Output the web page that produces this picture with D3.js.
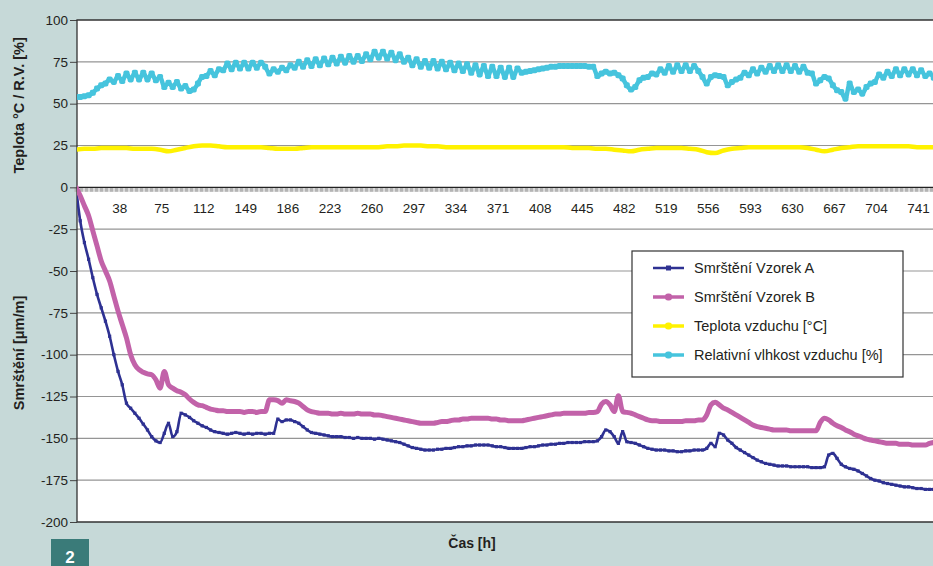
<!DOCTYPE html>
<html>
<head>
<meta charset="utf-8">
<script src="https://cdn.jsdelivr.net/npm/d3@7"></script>
<style>
  body { margin: 0; background: #c6d9d8; }
  svg { display: block; font-family: "Liberation Sans", Arial, sans-serif; }
</style>
</head>
<body>
<svg></svg>
<script>
/*
*  DATA
*/

// hours between two readings of the shrinkage / humidity series
let stepH = 3.7
// temperature is logged half as often
let stepT = 7.4

let xLabels = [38, 75, 112, 149, 186, 223, 260, 297, 334, 371, 408, 445, 482, 519, 556, 593, 630, 667, 704, 741]
let yTicks = [100, 75, 50, 25, 0, -25, -50, -75, -100, -125, -150, -175, -200]

let seriesNames = ['Smrštění Vzorek A', 'Smrštění Vzorek B', 'Teplota vzduchu [°C]', 'Relativní vlhkost vzduchu [%]']

let shrinkA = [
  0, -20, -33, -43, -54, -64, -72, -80, -89, -100,
  -110, -118, -129, -132, -135, -138, -141.5, -145, -149, -151.5,
  -152.5, -147, -141, -149, -146, -135, -136, -137.5, -139.5, -141,
  -142.5, -143.5, -145, -146, -146.5, -147, -147.5, -147, -146.5, -147,
  -147.5, -147, -147.5, -147, -147, -147.5, -147, -147, -138.5, -140,
  -139, -139, -140, -141, -143, -145, -146.5, -147, -147.5, -148,
  -148.5, -149, -149, -149, -149.5, -149.5, -150, -149.5, -150, -150,
  -150, -150.5, -150, -150.5, -151, -151.5, -152, -152.5, -153.5, -154.5,
  -155.5, -156, -156.5, -157, -157, -157, -156.5, -156.5, -156, -156,
  -155.5, -155, -155, -154.5, -154.5, -154, -154, -154, -154, -154.5,
  -155, -155, -155.5, -156, -156, -156, -156, -155.5, -155, -155,
  -154.5, -154, -154, -153.5, -153.5, -153, -153, -152.5, -152.5, -152.5,
  -152.5, -152, -152, -152, -151.5, -149, -145, -146, -149, -153,
  -146, -152, -152.5, -153, -154, -155, -156, -156.5, -157, -157,
  -157, -157.5, -157.5, -158, -158, -157.5, -157.5, -157, -157, -157,
  -156, -153, -155, -147, -148, -151, -153, -155.5, -157, -158.5,
  -160, -161.5, -163, -164, -165, -165.5, -166, -166.5, -166.5, -166.5,
  -167, -167, -167, -167, -167, -167.5, -167.5, -167.5, -167, -160,
  -159, -162, -165.5, -167, -168, -168.5, -169.5, -171, -172.5, -174,
  -175, -175.5, -176.5, -177, -177.5, -178, -178.5, -179, -179, -179.5,
  -180, -180, -180.5, -180.5, -180.5
]

let shrinkB = [
  0, -5, -11, -17, -26, -35, -44, -50, -56, -65,
  -74, -82, -90, -100, -106, -109, -110.5, -111.5, -112, -115,
  -120, -110, -118, -120, -121.5, -122.5, -124, -126.5, -128.5, -130,
  -130.5, -131.5, -132.5, -133, -133.5, -133.5, -134, -134, -134, -134,
  -134.5, -134, -134, -134.5, -134, -134, -127, -127, -127.5, -129,
  -127, -127.5, -128, -129, -131, -133, -134, -134.5, -135, -135,
  -135, -135.5, -135.5, -135, -135.5, -135.5, -135.5, -135, -135.5, -135.5,
  -135.5, -136, -136, -136.5, -137, -137.5, -138, -138.5, -139, -139.5,
  -140, -140.5, -141, -141, -141, -141, -140.5, -140, -140, -139.5,
  -139, -139, -138.5, -138.5, -138, -138, -138, -138, -138, -138.5,
  -138.5, -139, -139, -139.5, -139.5, -139.5, -139.5, -139, -138.5, -138,
  -137.5, -137, -136.5, -136, -135.5, -135.5, -135, -135, -135, -135,
  -135, -135, -134.5, -134.5, -134, -129.5, -128, -130, -134, -124.5,
  -134, -134.5, -135, -136, -137, -138, -139, -139.5, -139.5, -140,
  -140, -140, -140, -140, -140, -139.5, -139.5, -139.5, -139, -139,
  -136, -130, -128.5, -130, -132, -133, -134.5, -136, -137.5, -139,
  -140.5, -142, -143, -143.5, -144, -144.5, -145, -145, -145, -145,
  -145.5, -145.5, -145.5, -145.5, -145.5, -145.5, -145.5, -140.5, -138, -139,
  -141, -142.5, -143.5, -145, -146, -147.5, -148.5, -149.5, -150.5, -151,
  -151.5, -152, -152.5, -153, -153, -153, -153.5, -153.5, -153.5, -154,
  -154, -154, -154, -153, -152.5
]

let humidity = [
  54, 54, 54.5, 55, 56.5, 59, 61, 62, 64.5, 63,
  66.5, 63.5, 68, 64.5, 68.5, 64.5, 68.5, 64.5, 68, 64,
  66, 60, 62.5, 60, 63, 59, 60.5, 57.5, 58.5, 62,
  66, 66.5, 69.5, 67, 70.5, 70, 74, 70.5, 74.5, 71,
  74.5, 71, 74.5, 71.5, 74.5, 72, 68, 70.5, 69, 71.5,
  70, 73, 71.5, 75, 72, 76, 72.5, 76.5, 73, 77,
  73.5, 77.5, 74, 78, 74.5, 78.5, 75, 78.5, 75.5, 79.5,
  76.5, 81, 77.5, 81, 77, 80.5, 76, 79.5, 75, 77.5,
  73, 76.5, 72, 75.5, 71.5, 75.5, 71, 75, 70.5, 74.5,
  70, 74, 69.5, 73.5, 68.5, 73, 67.5, 72.5, 66.5, 72,
  66.5, 71.5, 66, 71.5, 66, 71, 68.5, 69, 69.5, 70,
  70.5, 71, 71.5, 72, 72, 72.5, 72.5, 72.5, 72.5, 72.5,
  72.5, 72.5, 72, 72, 66.5, 68, 69, 68, 68.5, 67,
  65, 61, 58.5, 60, 64, 65.5, 66, 68, 67.5, 70.5,
  68.5, 72.5, 69, 73, 69.5, 73, 69.5, 72.5, 69.5, 66,
  62, 66, 67, 66.5, 66, 61, 63, 64.5, 65.5, 68.5,
  67, 70.5, 68, 71.5, 69, 72.5, 69.5, 73, 69.5, 73,
  69.5, 72.5, 69, 72, 68.5, 68, 62, 64, 66, 65,
  61, 58, 57, 53, 62, 57, 58.5, 56, 60, 62,
  63, 67.5, 65.5, 69, 66.5, 70.5, 67, 70.5, 67.5, 70.5,
  67, 70, 66.5, 68, 65.5
]

let temperature = [
  22.5, 23, 23, 23.5, 23.5, 23.5, 23.5, 23, 23, 23,
  22.5, 21.5, 22.5, 23.5, 24.5, 25, 25, 24.5, 24, 24,
  24, 24, 24, 23.5, 23, 23, 23, 23.5, 24, 24,
  24, 24, 24, 24, 24, 24, 24, 24.5, 24.5, 25,
  25, 25, 24.5, 24.5, 24, 24, 24, 24, 24, 24,
  24, 24, 24, 24, 24, 24, 24, 24, 24, 23.5,
  23.5, 23.5, 23, 23, 22.5, 22, 21.5, 22.5, 23, 23.5,
  23.5, 23.5, 23.5, 23, 22.5, 21, 20.5, 22, 23, 23.5,
  24, 24, 24, 24, 24, 24, 24, 23.5, 22.5, 21.5,
  22.5, 23.5, 24, 24.5, 24.5, 24.5, 24.5, 24.5, 24.5, 24.5,
  24, 24, 24
]

/*
*  RUN
*/

let width = 933,
    height = 566,
    plotL = 77, plotT = 20, plotB = 522, plotR = 933

let colors = ['#2e3192', '#c262a9', '#fff200', '#46c4dd']

let svg = d3.select('svg').attr('width', width).attr('height', height)

let x = d3.scaleLinear().domain([0, 755]).range([76, 934])
let y = d3.scaleLinear().domain([-200, 100]).range([plotB, plotT])

drawFrame()
drawSeries()
drawLegend()
drawTitles()

/*
*  HELPERS
*/

function drawFrame(){
  svg.append('rect')
    .attr('x', plotL).attr('y', plotT)
    .attr('width', plotR - plotL + 10).attr('height', plotB - plotT)
    .attr('fill', 'white')

  svg.append('g').attr('class', 'grid')
    .selectAll('line')
    .data(yTicks.filter(d => d != 0 && d != 100 && d != -200))
    .enter()
    .append('line')
    .attr('x1', plotL).attr('x2', plotR + 5)
    .attr('y1', d => y(d)).attr('y2', d => y(d))
    .attr('stroke', '#959595')
    .attr('stroke-width', 1.2)

  // the dense category tick marks just under the zero line
  let minor = svg.append('g')
    .attr('transform', `translate(0,${y(0)})`)
    .call(d3.axisBottom(x).tickValues(d3.range(0, 760, 4.4)).tickSize(4.5).tickFormat(''))
  minor.select('.domain').remove()
  minor.selectAll('line').attr('stroke', '#b4b4b4').attr('stroke-width', 4)

  let xAxis = svg.append('g')
    .attr('transform', `translate(0,${y(0)})`)
    .call(d3.axisBottom(x).tickValues(xLabels).tickSize(0).tickPadding(16))
  xAxis.select('.domain').remove()
  xAxis.selectAll('text').attr('font-size', 13.5).attr('fill', '#231f20')
    .attr('font-family', '"Liberation Sans", Arial, sans-serif')

  svg.append('line')
    .attr('x1', plotL).attr('x2', plotR + 5)
    .attr('y1', y(0)).attr('y2', y(0))
    .attr('stroke', '#222').attr('stroke-width', 1.2)

  let yAxis = svg.append('g')
    .attr('transform', `translate(${plotL},0)`)
    .call(d3.axisLeft(y).tickValues(yTicks).tickSize(7).tickPadding(2).tickFormat(d => String(d)))
  yAxis.select('.domain').remove()
  yAxis.selectAll('line').attr('stroke', '#444')
  yAxis.selectAll('text').attr('font-size', 13.5).attr('fill', '#231f20')
    .attr('font-family', '"Liberation Sans", Arial, sans-serif')

  svg.append('path')
    .attr('d', `M${plotR + 5},${plotT}H${plotL}V${plotB}H${plotR + 5}`)
    .attr('fill', 'none')
    .attr('stroke', '#333')
    .attr('stroke-width', 1.3)
}

function drawSeries(){
  let clip = svg.append('clipPath').attr('id', 'plot')
  clip.append('rect').attr('x', plotL).attr('y', plotT - 10)
    .attr('width', plotR - plotL + 10).attr('height', plotB - plotT + 20)

  let g = svg.append('g').attr('clip-path', 'url(#plot)')

  let line = (step) => d3.line()
    .x((d, i) => x(i * step))
    .y(d => y(d))
    .curve(d3.curveMonotoneX)

  let series = [
    {values: shrinkA, step: stepH, width: 2.6, r: 1.6, round: false},
    {values: shrinkB, step: stepH, width: 5, r: 0},
    {values: temperature, step: stepT, width: 4.5, r: 0},
    {values: humidity, step: stepH, width: 4.5, r: 3, round: true}
  ]

  series.forEach((s, k) => {
    g.append('path')
      .datum(s.values)
      .attr('d', line(s.step))
      .attr('fill', 'none')
      .attr('stroke', colors[k])
      .attr('stroke-width', s.width)
      .attr('stroke-linejoin', 'round')
      .attr('stroke-linecap', 'round')
    if(s.r){
      g.selectAll('.m' + k)
        .data(s.values)
        .enter()
        .append('rect')
        .attr('x', (d, i) => x(i * s.step) - s.r)
        .attr('y', d => y(d) - s.r)
        .attr('width', s.r * 2).attr('height', s.r * 2)
        .attr('rx', s.round ? s.r * 0.6 : 0)
        .attr('fill', colors[k])
    }
  })
}

function drawLegend(){
  let l = svg.append('g').attr('class', 'legend').attr('transform', 'translate(632,251)')
  l.append('rect')
    .attr('width', 271).attr('height', 126)
    .attr('fill', 'white')
    .attr('stroke', '#333')
    .attr('stroke-width', 1.2)

  let rows = l.selectAll('.row')
    .data(seriesNames)
    .enter()
    .append('g')
    .attr('transform', (d, i) => `translate(0,${17 + i * 29})`)

  rows.append('line')
    .attr('x1', 21).attr('x2', 52)
    .attr('stroke', (d, i) => colors[i])
    .attr('stroke-width', (d, i) => i == 0 ? 2.5 : 3.5)
  rows.append('rect')
    .attr('x', (d, i) => i == 0 ? 34 : 33)
    .attr('y', (d, i) => i == 0 ? -2.5 : -3.5)
    .attr('width', (d, i) => i == 0 ? 5 : 7)
    .attr('height', (d, i) => i == 0 ? 5 : 7)
    .attr('rx', (d, i) => i == 0 ? 0 : 3)
    .attr('fill', (d, i) => colors[i])
  rows.append('text')
    .text(d => d)
    .attr('x', 62).attr('y', 5)
    .attr('font-size', 14.5)
    .attr('fill', '#231f20')
}

function drawTitles(){
  svg.append('text')
    .text('Teplota °C / R.V. [%]')
    .attr('transform', `translate(24,${y(49)}) rotate(-90)`)
    .attr('text-anchor', 'middle')
    .attr('font-size', 14.5)
    .attr('font-weight', 'bold')
    .attr('fill', '#231f20')

  svg.append('text')
    .text('Smrštění [μm/m]')
    .attr('transform', `translate(24,${y(-99)}) rotate(-90)`)
    .attr('text-anchor', 'middle')
    .attr('font-size', 14.5)
    .attr('font-weight', 'bold')
    .attr('fill', '#231f20')

  svg.append('text')
    .text('Čas [h]')
    .attr('x', 472).attr('y', 548)
    .attr('text-anchor', 'middle')
    .attr('font-size', 14)
    .attr('font-weight', 'bold')
    .attr('fill', '#231f20')

  svg.append('rect')
    .attr('x', 51).attr('y', 539)
    .attr('width', 38).attr('height', 30)
    .attr('fill', '#3a7b79')
  svg.append('text')
    .text('2')
    .attr('x', 70).attr('y', 563)
    .attr('text-anchor', 'middle')
    .attr('font-size', 17)
    .attr('font-weight', 'bold')
    .attr('fill', 'white')
}
</script>
</body>
</html>
